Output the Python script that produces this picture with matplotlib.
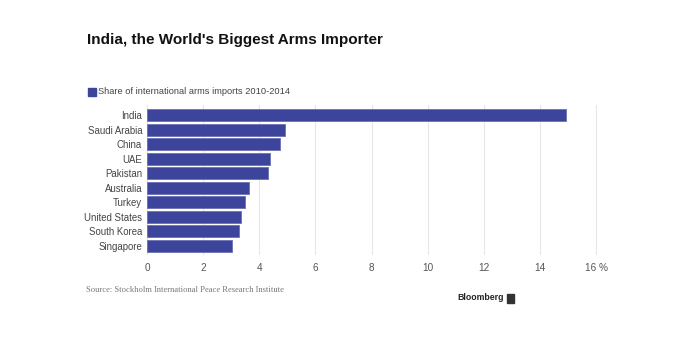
import matplotlib
matplotlib.use("Agg")
from matplotlib import pyplot as plt
from matplotlib.patches import Rectangle

countries = ["India", "Saudi Arabia", "China", "UAE", "Pakistan", "Australia",
             "Turkey", "United States", "South Korea", "Singapore"]
shares = [14.93, 4.93, 4.75, 4.38, 4.32, 3.63, 3.48, 3.35, 3.28, 3.03]
xticks = [0, 2, 4, 6, 8, 10, 12, 14, 16]
xtick_labels = ["0", "2", "4", "6", "8", "10", "12", "14", "16 %"]

W, H = 692, 338
bar_color = "#3c449c"
plt.rcParams["font.family"] = ["Liberation Sans", "DejaVu Sans"]

fig = plt.figure(figsize=(W / 100, H / 100), dpi=100)
fig.patch.set_facecolor("white")

# axes placed in pixel terms
left, right, top, bottom = 147, 597, 105, 255
ax = fig.add_axes([left / W, 1 - bottom / H, (right - left) / W, (bottom - top) / H])

y = list(range(len(countries)))
ax.barh(y, shares, height=0.82, color=bar_color, edgecolor="#6a70b4", linewidth=0.6, zorder=3)
ax.set_ylim(len(countries) - 0.38, -0.69)
ax.set_xlim(0, 16.03)
ax.set_yticks(y)
ax.set_yticklabels(countries, fontsize=6.9, color="#444444")
ax.set_xticks(xticks)
ax.set_xticklabels(xtick_labels, fontsize=7.2, color="#555555")
ax.tick_params(length=0, pad=3.5)
ax.tick_params(axis="x", pad=6)
ax.xaxis.grid(True, color="#e6e6e6", linewidth=0.8, zorder=0)
for s in ax.spines.values():
    s.set_visible(False)

# title and legend
fig.text(87 / W, 1 - 40 / H, "India, the World's Biggest Arms Importer",
         fontsize=11.0, fontweight="bold", color="#111111", va="center", ha="left")
fig.patches.append(Rectangle((88 / W, 1 - 95.5 / H), 8 / W, 8 / H,
                             transform=fig.transFigure, color=bar_color))
fig.text(98 / W, 1 - 91.5 / H, "Share of international arms imports 2010-2014",
         fontsize=6.7, color="#444444", va="center", ha="left")

# footer
fig.text(86 / W, 1 - 290 / H, "Source: Stockholm International Peace Research Institute",
         fontsize=6.1, color="#777777", family=["Liberation Serif", "DejaVu Serif"],
         va="center", ha="left")
fig.text(504 / W, 1 - 298 / H, "Bloomberg", fontsize=6.3, fontweight="bold",
         color="#222222", va="center", ha="right")
fig.patches.append(Rectangle((507 / W, 1 - 303 / H), 7 / W, 9 / H,
                             transform=fig.transFigure, color="#333333"))

fig.savefig("out.png", dpi=100, facecolor="white")
